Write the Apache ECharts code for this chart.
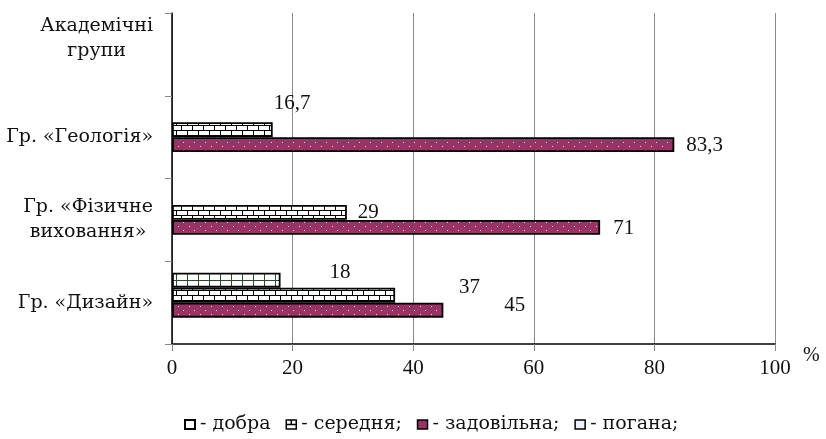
<!DOCTYPE html>
<html><head><meta charset="utf-8">
<script src="https://cdn.jsdelivr.net/npm/echarts@6/dist/echarts.min.js"></script>
<style>html,body{margin:0;padding:0;background:#fff}#c{width:826px;height:439px}</style>
</head><body><div id="c"></div>
<script>
// ---- data ----
const categories = ['Гр. «Дизайн»', 'Гр. «Фізичне\nвиховання»', 'Гр. «Геологія»', 'Академічні\nгрупи'];
const seriesNames = ['добра', 'середня', 'задовільна', 'погана'];
const legendLabels = ['- добра', '- середня;', '- задовільна;', '- погана;'];
const dobra = [18, null, null, null];
const serednia = [37, 29, 16.7, null];
const zadovilna = [45, 71, 83.3, null];
const pohana = [null, null, null, null];
const xTicks = [0, 20, 40, 60, 80, 100];

// ---- styles (label offsets per category, kept apart from data) ----
const FONT = "'Liberation Serif', 'Times New Roman', serif";
const CYR = "'DejaVu Serif', 'Liberation Serif', serif";
const labelOffsets = {
  'добра': [[44, -8]],
  'середня': [[59, -8], [6, 0], [-4, -26]],
  'задовільна': [[56, -5], [8, 1], [7, 1]],
  'погана': []
};

function makeTile(w, h, draw) {
  const c = document.createElement('canvas');
  c.width = w; c.height = h;
  draw(c.getContext('2d'));
  return c;
}
const gridTile = makeTile(11, 7, g => {
  g.fillStyle = '#fff'; g.fillRect(0, 0, 11, 7);
  g.fillStyle = '#2c4a2c'; g.fillRect(0, 0, 1, 7); g.fillRect(0, 0, 11, 1);
});
const brickTile = makeTile(22, 10, g => {
  g.fillStyle = '#fff'; g.fillRect(0, 0, 22, 10);
  g.fillStyle = '#000';
  g.fillRect(0, 0, 22, 1); g.fillRect(0, 5, 22, 1);
  g.fillRect(0, 0, 1, 5); g.fillRect(11, 0, 1, 5);
  g.fillRect(5, 5, 1, 5); g.fillRect(16, 5, 1, 5);
});
const dotTile = makeTile(11, 8, g => {
  g.fillStyle = '#993366'; g.fillRect(0, 0, 11, 8);
  g.fillStyle = '#f2d6e4'; g.fillRect(2, 2, 1, 1); g.fillRect(7, 6, 1, 1);
});
const fills = {
  'добра': { image: gridTile, repeat: 'repeat' },
  'середня': { image: brickTile, repeat: 'repeat' },
  'задовільна': { image: dotTile, repeat: 'repeat' },
  'погана': '#ffffff'
};
const seriesData = { 'добра': dobra, 'середня': serednia, 'задовільна': zadovilna, 'погана': pohana };

const series = seriesNames.map(name => ({
  name,
  type: 'bar',
  barWidth: 15,
  barGap: '0%',
  data: seriesData[name].map((v, i) => v == null ? '-' : { value: v, label: { offset: labelOffsets[name][i] || [0, 0] } }),
  itemStyle: { color: fills[name], borderColor: '#000', borderWidth: 1.8 },
  label: {
    show: true, position: 'right', distance: 5,
    formatter: p => String(p.value).replace('.', ','),
    fontFamily: FONT, fontSize: 21, color: '#111'
  },
  emphasis: { disabled: true }
}));

const chart = echarts.init(document.getElementById('c'), null, { renderer: 'canvas' });
chart.setOption({
  animation: false,
  backgroundColor: '#fff',
  grid: { left: 172, right: 51, top: 13, bottom: 95, containLabel: false },
  xAxis: {
    type: 'value', min: xTicks[0], max: xTicks[xTicks.length - 1], interval: xTicks[1] - xTicks[0],
    name: '%', nameLocation: 'end', nameGap: 28,
    nameTextStyle: { fontFamily: FONT, fontSize: 20, color: '#111', verticalAlign: 'top', padding: [2, 0, 0, 0] },
    axisLine: { show: true, lineStyle: { color: '#000', width: 1.5 } },
    axisTick: { show: true, length: 7, lineStyle: { color: '#888' } },
    splitLine: { show: true, lineStyle: { color: '#8a8a8a', width: 1 } },
    axisLabel: { margin: 14, fontFamily: FONT, fontSize: 21, color: '#111' }
  },
  yAxis: {
    type: 'category', data: categories,
    axisLine: { show: true, lineStyle: { color: '#000', width: 1.5 } },
    axisTick: { show: true, length: 7, lineStyle: { color: '#888' } },
    axisLabel: {
      margin: 19, fontFamily: CYR, fontSize: 19, color: '#111',
      formatter: (v, idx) => {
        const lines = v.split('\n');
        if (idx === categories.length - 1) return lines.map(l => '{c|' + l + '}').join('\n') + '\n{e| }';
        return lines.map(l => '{c|' + l + '}').join('\n');
      },
      rich: {
        c: { align: 'center', fontFamily: CYR, fontSize: 19, lineHeight: 25, color: '#111' },
        e: { fontFamily: CYR, fontSize: 19, lineHeight: 32 }
      }
    }
  },
  legend: {
    left: 179, top: 410, itemWidth: 10, itemHeight: 9, itemGap: 15,
    textStyle: { fontFamily: CYR, fontSize: 19, color: '#111' },
    formatter: n => legendLabels[seriesNames.indexOf(n)],
    data: [
      { name: 'добра', icon: 'rect', itemStyle: { color: '#fff', borderColor: '#000', borderWidth: 2 } },
      { name: 'середня', icon: 'path://M0,0H10V9H0Z M5,0V4.5 M0,4.5H10', itemStyle: { color: '#fff', borderColor: '#000', borderWidth: 1.5 } },
      { name: 'задовільна', icon: 'rect', itemStyle: { color: '#993366', borderColor: '#000', borderWidth: 1.5 } },
      { name: 'погана', icon: 'rect', itemStyle: { color: '#eef0f8', borderColor: '#000', borderWidth: 1.5 } }
    ]
  },
  series
});
</script>
</body></html>
